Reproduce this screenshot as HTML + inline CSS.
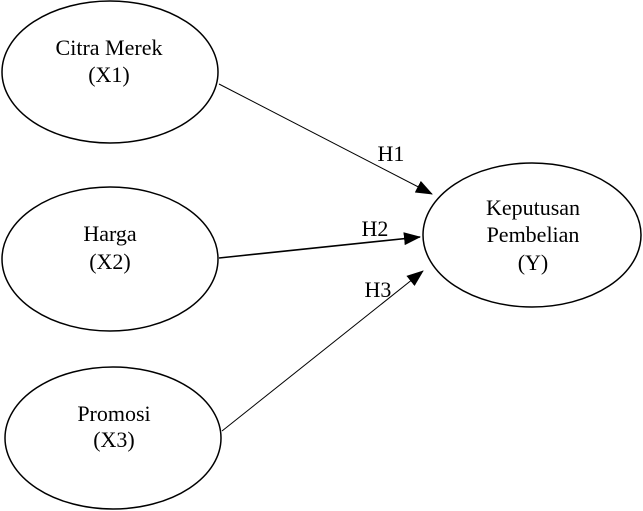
<!DOCTYPE html>
<html><head><meta charset="utf-8"><style>
html,body{margin:0;padding:0;background:#fff;}
svg{display:block;}
text{font-family:"Liberation Serif",serif;font-size:22px;fill:#000;text-anchor:middle;}
</style></head><body>
<svg width="643" height="511" viewBox="0 0 643 511" xmlns="http://www.w3.org/2000/svg">
<defs>
<marker id="b" markerWidth="17" markerHeight="13" refX="16" refY="6.5" orient="auto" markerUnits="userSpaceOnUse">
<path d="M0,0 L17,6.5 L0,13 Z" fill="#000"/>
</marker>
</defs>
<g fill="none" stroke="#000" stroke-width="1.5">
<ellipse cx="110" cy="72" rx="108" ry="71"/>
<ellipse cx="110" cy="259" rx="108" ry="72"/>
<ellipse cx="113" cy="438" rx="108" ry="71"/>
<ellipse cx="532" cy="235" rx="109" ry="72"/>
</g>
<g stroke="#000">
<line x1="219" y1="84" x2="432" y2="194" stroke-width="1" marker-end="url(#b)"/>
<line x1="219" y1="258" x2="420" y2="237" stroke-width="1.6" marker-end="url(#b)"/>
<line x1="222" y1="431" x2="423" y2="271" stroke-width="1" marker-end="url(#b)"/>
</g>
<text x="109" y="55">Citra Merek</text>
<text x="109" y="82">(X1)</text>
<text x="110" y="241">Harga</text>
<text x="110" y="269">(X2)</text>
<text x="114" y="421">Promosi</text>
<text x="114" y="447">(X3)</text>
<text x="533" y="215">Keputusan</text>
<text x="533" y="242">Pembelian</text>
<text x="533" y="270">(Y)</text>
<text x="391" y="161">H1</text>
<text x="375" y="236">H2</text>
<text x="378" y="297">H3</text>
</svg>
</body></html>
